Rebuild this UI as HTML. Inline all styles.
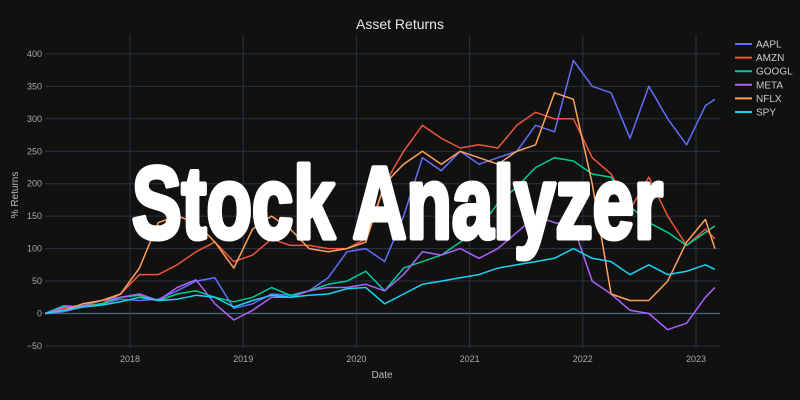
<!DOCTYPE html>
<html><head><meta charset="utf-8">
<style>
html,body{margin:0;padding:0;background:#111111;}
svg{display:block;font-family:"Liberation Sans",sans-serif;}
</style></head>
<body>
<svg id="chart" width="800" height="400" viewBox="0 0 800 400">
<rect width="800" height="400" fill="#111111"/>
<g id="grid"></g>
<g id="axes"></g>
<g id="series"></g>
<g id="legend"></g>
<text x="400" y="29" text-anchor="middle" font-size="14" fill="#e8e8e8">Asset Returns</text>
<text x="382" y="378" text-anchor="middle" font-size="10" fill="#bbbbbb">Date</text>
<text x="18" y="195" text-anchor="middle" font-size="10" fill="#bbbbbb" transform="rotate(-90 18 195)">% Returns</text>
<text x="132" y="238" font-size="102" font-weight="bold" fill="#ffffff" stroke="#ffffff" stroke-width="5" stroke-linejoin="round" textLength="531" lengthAdjust="spacingAndGlyphs" style="font-family:'Liberation Sans Narrow','Liberation Sans',sans-serif">Stock Analyzer</text>
</svg>
<script>
const dates = ["2017-04","2017-06","2017-08","2017-10","2017-12","2018-02","2018-04","2018-06","2018-08","2018-10","2018-12","2019-02","2019-04","2019-06","2019-08","2019-10","2019-12","2020-02","2020-04","2020-06","2020-08","2020-10","2020-12","2021-02","2021-04","2021-06","2021-08","2021-10","2021-12","2022-02","2022-04","2022-06","2022-08","2022-10","2022-12","2023-02","2023-03"];
const aapl = [0,3,10,15,22,20,22,35,50,55,8,15,30,28,35,55,95,100,80,150,240,220,250,230,240,250,290,280,390,350,340,270,350,300,260,320,330];
const amzn = [0,8,12,15,30,60,60,75,95,110,80,90,115,105,105,100,100,115,200,250,290,270,255,260,255,290,310,300,300,240,215,160,210,150,105,130,115];
const googl = [0,12,10,15,25,28,20,30,35,25,18,25,40,28,35,45,50,65,35,70,80,90,110,130,170,195,225,240,235,215,210,165,140,125,105,125,135];
const meta = [0,10,12,20,25,30,20,40,52,15,-10,5,25,25,35,40,40,45,35,60,95,90,100,85,100,125,150,140,135,50,30,5,0,-25,-15,25,40];
const nflx = [0,5,15,20,30,70,140,150,140,110,70,130,150,130,100,95,100,110,200,230,250,230,250,240,230,250,260,340,330,200,30,20,20,50,110,145,100];
const spy = [0,5,10,13,18,25,20,22,28,25,10,20,28,25,28,30,38,40,15,30,45,50,55,60,70,75,80,85,100,85,80,60,75,60,65,75,68];
const seriesNames = ["AAPL","AMZN","GOOGL","META","NFLX","SPY"];
const yTicks = [-50,0,50,100,150,200,250,300,350,400];
const xTicks = ["2018","2019","2020","2021","2022","2023"];

const NS="http://www.w3.org/2000/svg";
const colors=["#636efa","#EF553B","#00cc96","#ab63fa","#FFA15A","#19d3f3"];
const allSeries=[aapl,amzn,googl,meta,nflx,spy];
function dnum(s){const p=s.split("-");return +p[0]+(+p[1]-1)/12;}
function xs(t){return 130+(t-2018)*113.2;}
function ys(v){return 313.5-v*0.649;}
function mk(tag,attrs,parent){const e=document.createElementNS(NS,tag);for(const k in attrs)e.setAttribute(k,attrs[k]);parent.appendChild(e);return e;}
const grid=document.getElementById("grid"),axes=document.getElementById("axes"),ser=document.getElementById("series"),leg=document.getElementById("legend");
yTicks.forEach(v=>{
  const l=mk("line",{x1:45,x2:720,y1:ys(v),y2:ys(v),stroke:v===0?"#506784":"#283442","stroke-width":v===0?1.2:1},grid);
  
  
  const t=mk("text",{x:42,y:ys(v)+3,"text-anchor":"end","font-size":9,fill:"#aaaaaa"},axes);
  t.textContent=(v<0?"\u2212"+(-v):v);
  
  
});
xTicks.forEach(s=>{
  const x=xs(+s);
  const l=mk("line",{x1:x,x2:x,y1:35,y2:348,stroke:"#283442","stroke-width":1},grid);
  
  
  const t=mk("text",{x:x,y:362,"text-anchor":"middle","font-size":9,fill:"#aaaaaa"},axes);
  t.textContent=s;
  
  
});
allSeries.forEach((vals,i)=>{
  const d=vals.map((v,j)=>(j?"L":"M")+xs(dnum(dates[j])).toFixed(1)+","+ys(v).toFixed(1)).join(" ");
  const p=mk("path",{d:d,fill:"none",stroke:colors[i],"stroke-width":1.5,"stroke-linejoin":"round"},ser);
  
  
  const y=44+i*13.6;
  const g=mk("g",{},leg);
  
  
  mk("line",{x1:735,x2:752,y1:y,y2:y,stroke:colors[i],"stroke-width":2},g);
  const t=mk("text",{x:756,y:y+3.5,"font-size":10,fill:"#cccccc"},g);
  t.textContent=seriesNames[i];
});
</script>
</body></html>
